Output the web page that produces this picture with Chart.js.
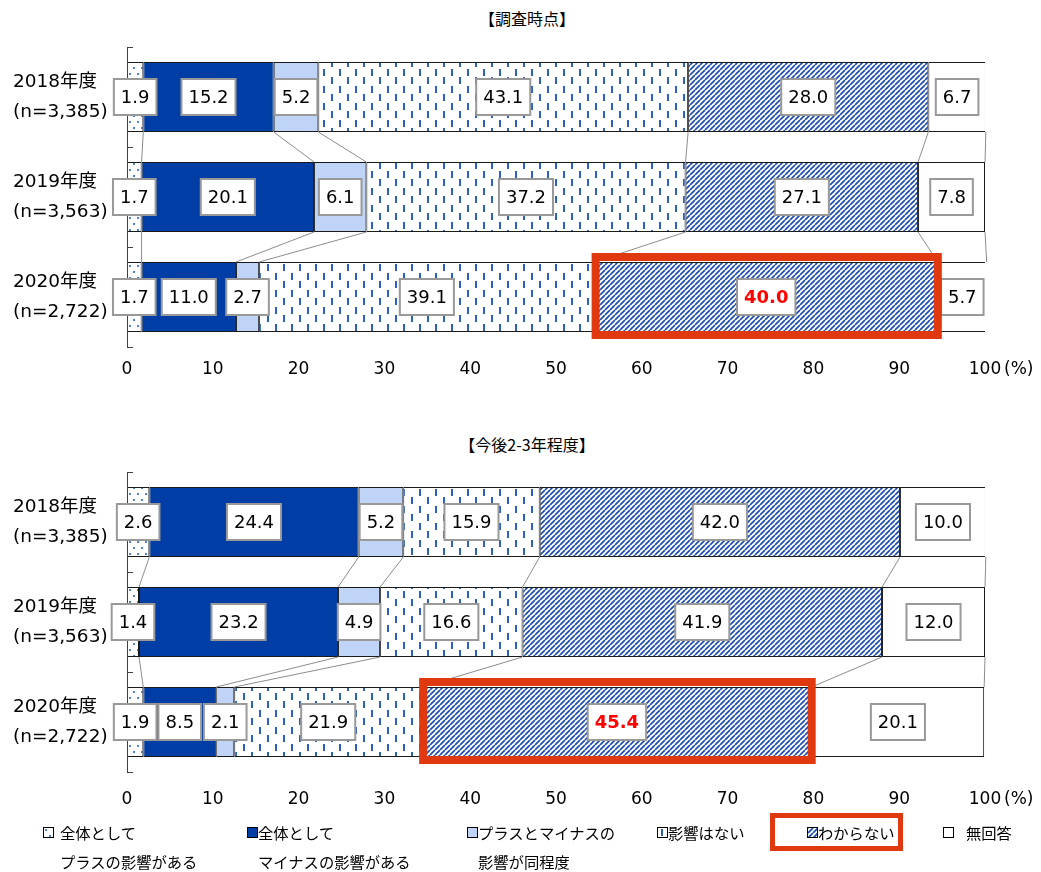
<!DOCTYPE html>
<html>
<head>
<meta charset="utf-8">
<script src="https://cdn.jsdelivr.net/npm/chart.js@4.4.0/dist/chart.umd.min.js"></script>
<style>
  body { margin:0; background:#fff; width:1041px; height:872px; position:relative; overflow:hidden;
         font-family:"Noto Sans CJK JP", sans-serif; color:#000; }
  canvas.chart { position:absolute; left:0; }
  .ttl { position:absolute; left:427px; width:200px; text-align:center; font-size:16px; line-height:20px; }
  .lg { position:absolute; font-size:15.3px; line-height:29px; white-space:pre; }
  .lg-icon { position:absolute; width:9px; height:9px; border:1px solid #000; }
  #lgbox { position:absolute; left:770px; top:813px; width:133px; height:38px; box-sizing:border-box; border:5px solid #e0380f; }
</style>
</head>
<body>
<div class="ttl" style="top:8px">【調査時点】</div>
<div class="ttl" style="top:434px">【今後2-3年程度】</div>
<canvas id="now" class="chart" width="1041" height="420" style="top:0"></canvas>
<canvas id="future" class="chart" width="1041" height="400" style="top:420px"></canvas>
<div id="lgbox"></div>
<div id="legend"></div>
<script>
// ---- data ----
const years = [['2018年度', '(n=3,385)'], ['2019年度', '(n=3,563)'], ['2020年度', '(n=2,722)']];
const seriesNames = ['全体として\nプラスの影響がある', '全体として\nマイナスの影響がある', 'プラスとマイナスの\n影響が同程度', '影響はない', 'わからない', '無回答'];

// 調査時点
const nowPlus     = [1.9, 1.7, 1.7];
const nowMinus    = [15.2, 20.1, 11.0];
const nowEven     = [5.2, 6.1, 2.7];
const nowNone     = [43.1, 37.2, 39.1];
const nowUnknown  = [28.0, 27.1, 40.0];
const nowNoAnswer = [6.7, 7.8, 5.7];

// 今後2-3年程度
const futPlus     = [2.6, 1.4, 1.9];
const futMinus    = [24.4, 23.2, 8.5];
const futEven     = [5.2, 4.9, 2.1];
const futNone     = [15.9, 16.6, 21.9];
const futUnknown  = [42.0, 41.9, 45.4];
const futNoAnswer = [10.0, 12.0, 20.1];

const NUM_FONT = '"DejaVu Sans", "Noto Sans CJK JP", sans-serif';

// ---- fills ----
function tile(w, h, draw) {
  const c = document.createElement('canvas');
  c.width = w; c.height = h;
  const g = c.getContext('2d');
  g.fillStyle = '#fff';
  g.fillRect(0, 0, w, h);
  draw(g, w, h);
  return c;
}
const tiles = [
  tile(8, 12, g => { g.fillStyle = '#4f82d8'; g.fillRect(1, 1, 2, 2); g.fillRect(5, 7, 2, 2); }),
  null,
  null,
  tile(16, 17, g => { g.fillStyle = '#2a5fc6'; g.fillRect(3, 1, 2, 7); g.fillRect(11, 9, 2, 7); }),
  tile(5, 5, (g, w, h) => {
    g.strokeStyle = '#1c4db4'; g.lineWidth = 1.7;
    g.beginPath();
    for (let k = -1; k <= 1; k++) { g.moveTo(k * w, h); g.lineTo(k * w + w, 0); }
    g.stroke();
  }),
  null
];
const solid = ['#fff', '#003da5', '#bfd4f6', '#fff', '#fff', '#fff'];
const probe = document.createElement('canvas').getContext('2d');
const fills = tiles.map((t, i) => t ? probe.createPattern(t, 'repeat') : solid[i]);

// ---- overlay: connectors, value boxes, highlight, axis ----
const overlay = {
  id: 'overlay',
  afterDatasetsDraw(chart, args, opts) {
    const ctx = chart.ctx;
    const area = chart.chartArea;
    const metas = chart.data.datasets.map((d, i) => chart.getDatasetMeta(i));
    const n = chart.data.labels.length;

    ctx.save();
    // connector lines between bars
    ctx.strokeStyle = '#8c8c8c';
    ctx.lineWidth = 1;
    metas.forEach(m => {
      for (let i = 0; i < n - 1; i++) {
        const a = m.data[i], b = m.data[i + 1];
        ctx.beginPath();
        ctx.moveTo(a.x, a.y + a.height / 2);
        ctx.lineTo(b.x, b.y - b.height / 2);
        ctx.stroke();
      }
    });

    // y axis line + inner ticks
    const ys = chart.scales.y;
    ctx.strokeStyle = '#404040';
    ctx.beginPath();
    ctx.moveTo(area.left + 0.5, area.top);
    ctx.lineTo(area.left + 0.5, area.bottom);
    const marks = [area.top, area.bottom];
    for (let i = 0; i < n - 1; i++) marks.push((ys.getPixelForValue(i) + ys.getPixelForValue(i + 1)) / 2);
    marks.forEach(y => { ctx.moveTo(area.left, Math.round(y) + 0.5); ctx.lineTo(area.left + 6, Math.round(y) + 0.5); });
    ctx.stroke();

    // value boxes
    ctx.textAlign = 'center';
    ctx.textBaseline = 'middle';
    metas.forEach((m, d) => {
      m.data.forEach((el, i) => {
        const v = chart.data.datasets[d].data[i];
        const hot = opts.highlight && opts.highlight.dataset === d && opts.highlight.index === i;
        ctx.font = (hot ? 'bold ' : '') + '18px ' + NUM_FONT;
        const txt = v.toFixed(1);
        const w = ctx.measureText(txt).width + 14;
        const cx = (el.x + el.base) / 2;
        ctx.fillStyle = '#fff';
        ctx.fillRect(cx - w / 2, el.y - 18, w, 36);
        ctx.strokeStyle = '#999';
        ctx.lineWidth = 2;
        ctx.strokeRect(cx - w / 2, el.y - 18, w, 36);
        ctx.fillStyle = hot ? '#ff0000' : '#000';
        ctx.fillText(txt, cx, el.y + 1);
      });
    });

    // red highlight
    if (opts.highlight) {
      const el = metas[opts.highlight.dataset].data[opts.highlight.index];
      ctx.strokeStyle = '#e0380f';
      ctx.lineWidth = 8;
      const x0 = Math.min(el.x, el.base) + 1, x1 = Math.max(el.x, el.base);
      ctx.strokeRect(x0, el.y - el.height / 2 - 5, x1 - x0, el.height + 8);
    }

    // (%) after the last x tick
    const xs = chart.scales.x;
    ctx.font = '17px ' + NUM_FONT;
    ctx.fillStyle = '#000';
    ctx.textAlign = 'left';
    ctx.fillText('(%)', xs.getPixelForValue(100) + 19, area.bottom + opts.tickPad + 11);
    ctx.restore();
  }
};

function makeChart(id, series, padTop, padBottom, tickPad) {
  return new Chart(document.getElementById(id), {
    type: 'bar',
    data: {
      labels: years,
      datasets: series.map((arr, i) => ({
        label: seriesNames[i],
        data: arr,
        backgroundColor: fills[i],
        borderColor: '#1a1a1a',
        borderWidth: 1,
        borderSkipped: false,
        barPercentage: 0.7,
        categoryPercentage: 1
      }))
    },
    options: {
      indexAxis: 'y',
      responsive: false,
      animation: false,
      layout: { padding: { left: 13, right: 56, top: padTop, bottom: padBottom } },
      plugins: {
        legend: { display: false },
        tooltip: { enabled: false },
        overlay: { highlight: { dataset: 4, index: 2 }, tickPad: tickPad }
      },
      scales: {
        x: {
          stacked: true, min: 0, max: 100,
          ticks: { stepSize: 10, padding: tickPad, color: '#000', font: { family: NUM_FONT, size: 17 } },
          grid: { display: false, drawTicks: false },
          border: { display: false },
          afterFit(s) { s.height = 40; }
        },
        y: {
          stacked: true,
          ticks: { crossAlign: 'far', color: '#000', font: { family: NUM_FONT, size: 18.5, lineHeight: 1.6 } },
          grid: { display: false, drawTicks: false },
          border: { display: false },
          afterFit(s) { s.width = 114; }
        }
      }
    },
    plugins: [overlay]
  });
}

makeChart('now', [nowPlus, nowMinus, nowEven, nowNone, nowUnknown, nowNoAnswer], 47, 33, 12);
makeChart('future', [futPlus, futMinus, futEven, futNone, futUnknown, futNoAnswer], 52, 8, 17);

// ---- legend ----
const iconX = [43, 247, 467, 657, 807, 943];
const textX = [60, 258, 478, 668, 818, 966];
const legend = document.getElementById('legend');
seriesNames.forEach((name, i) => {
  const ic = document.createElement('div');
  ic.className = 'lg-icon';
  ic.style.left = iconX[i] + 'px';
  ic.style.top = '827px';
  if (tiles[i]) ic.style.backgroundImage = 'url(' + tiles[i].toDataURL() + ')';
  else ic.style.background = solid[i];
  legend.appendChild(ic);
  const t = document.createElement('div');
  t.className = 'lg';
  t.style.left = textX[i] + 'px';
  t.style.top = '818px';
  t.textContent = name;
  legend.appendChild(t);
});
</script>
</body>
</html>
